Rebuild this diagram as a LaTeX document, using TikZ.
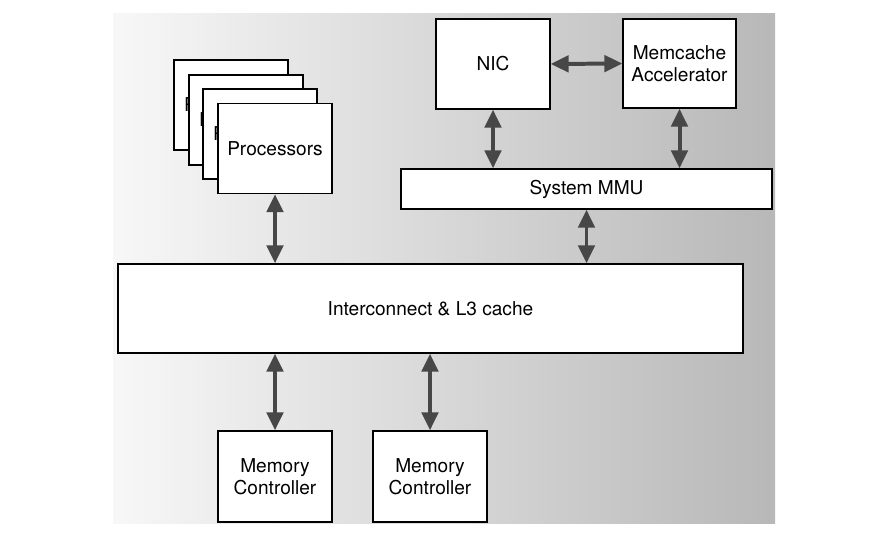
\documentclass[tikz,border=0pt]{standalone}
\usepackage{fontspec}
\setmainfont{TeX Gyre Heros}
\usepackage{xcolor}
\usepackage{tikz}
\usetikzlibrary{positioning,arrows.meta}
\definecolor{arrgray}{HTML}{474747}

\begin{document}
\begin{tikzpicture}[x=0.03cm,y=-0.03cm,
    blk/.style={draw,fill=white,line width=1.1pt,align=center,font=\fontsize{16.3}{19}\selectfont,inner sep=2pt},
    cut/.style={anchor=west,inner sep=0pt,font=\fontsize{16.3}{19}\selectfont},
    arr/.style={{Triangle[length=5.4mm,width=4.9mm]}-{Triangle[length=5.4mm,width=4.9mm]},line width=3.4pt,draw=arrgray,fill=arrgray}
  ]
    \useasboundingbox (0,0) rectangle (869,536);
    \shade[left color=black!3,right color=black!28] (113,14) rectangle (775,523);
    \node[blk,minimum width=3.42cm,minimum height=2.7cm] (p1) at (231,105) {};
    \node[cut,right=1.41cm of p1.center,xshift=-2.82cm] (p1t) {P};
    \node[blk,minimum width=3.42cm,minimum height=2.7cm] (p2) at (246,120) {};
    \node[cut,right=1.41cm of p2.center,xshift=-2.82cm] (p2t) {P};
    \node[blk,minimum width=3.42cm,minimum height=2.7cm] (p3) at (260,134) {};
    \node[cut,right=1.41cm of p3.center,xshift=-2.82cm] (p3t) {P};
    \node[blk,minimum width=3.42cm,minimum height=2.7cm] (proc) at (275,148.5) {Processors};
    \node[blk,minimum width=3.42cm,minimum height=2.7cm] (nic) at (493,64) {NIC};
    \node[blk,minimum width=3.39cm,minimum height=2.67cm] (mca) at (679.5,63.5) {Memcache\\Accelerator};
    \node[blk,minimum width=11.13cm,minimum height=1.2cm] (mmu) at (586.5,189) {System MMU};
    \node[blk,minimum width=18.75cm,minimum height=2.67cm] (ic) at (430.5,308.5) {Interconnect \& L3 cache};
    \node[blk,minimum width=3.42cm,minimum height=2.73cm] (mc1) at (275,476.5) {Memory\\Controller};
    \node[blk,minimum width=3.42cm,minimum height=2.73cm] (mc2) at (430,476.5) {Memory\\Controller};
    \draw[arr] (nic.east) -- (mca.west);
    \draw[arr] (nic.south) -- (nic.south |- mmu.north);
    \draw[arr] (mca.south) -- (mca.south |- mmu.north);
    \draw[arr] (mmu.south) -- (mmu.south |- ic.north);
    \draw[arr] (proc.south) -- (proc.south |- ic.north);
    \draw[arr] (ic.south -| mc1.north) -- (mc1.north);
    \draw[arr] (ic.south -| mc2.north) -- (mc2.north);
  \end{tikzpicture}
\end{document}
